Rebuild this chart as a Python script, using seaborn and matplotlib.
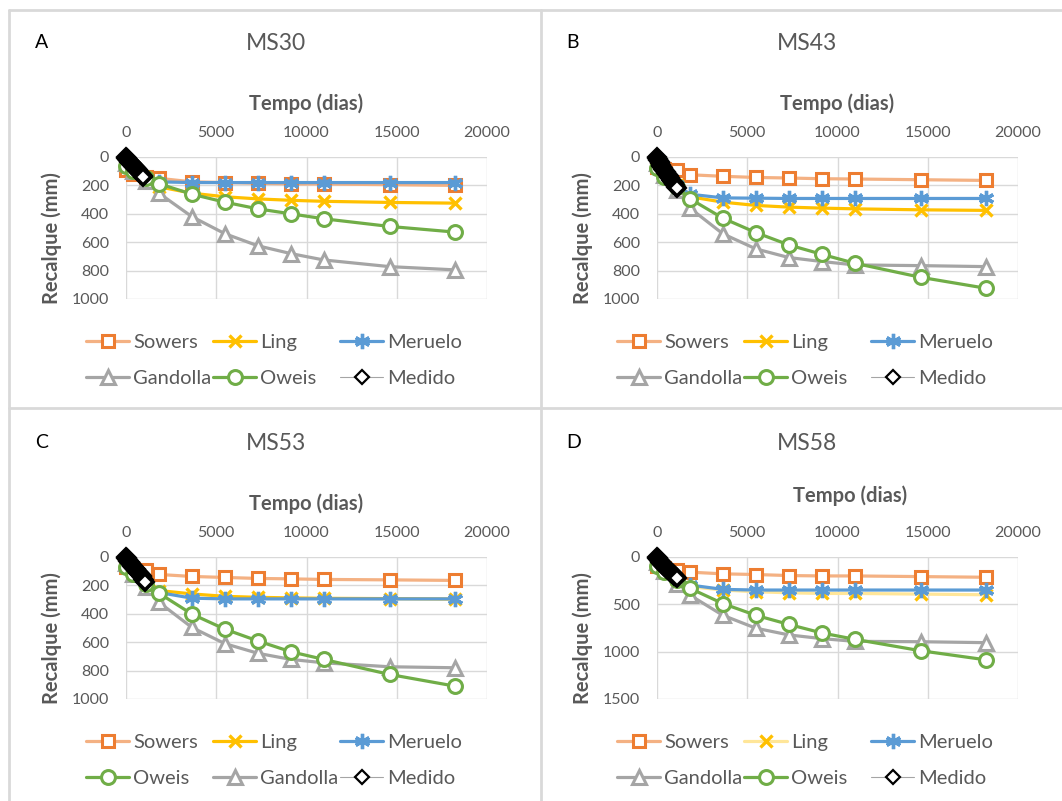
import matplotlib
matplotlib.use("Agg")
import matplotlib.pyplot as plt
from matplotlib.lines import Line2D
import seaborn as sns

# ---------------- data ----------------
t_model = [0, 365, 1095, 1825, 3650, 5475, 7300, 9125, 10950, 14600, 18250]

# MS30 (A)
A_sowers = [90, 120, 140, 150, 175, 180, 185, 190, 190, 195, 200]
A_ling = [20, 80, 150, 210, 255, 280, 295, 305, 312, 320, 325]
A_meruelo = [10, 90, 160, 175, 180, 180, 180, 180, 180, 180, 180]
A_gandolla = [40, 100, 170, 255, 420, 540, 625, 680, 725, 772, 795]
A_oweis = [60, 100, 150, 188, 262, 318, 365, 400, 435, 489, 529]
A_t_med = [0, 20, 45, 70, 100, 130, 160, 190, 220, 250, 285, 320, 355, 390, 425, 460,
           495, 530, 565, 600, 640, 680, 720, 760, 800, 840, 880, 915, 950]
A_medido = [0, 4, 9, 13, 18, 23, 28, 32, 36, 40, 45, 50, 55, 59, 64, 68,
            73, 78, 83, 88, 93, 99, 104, 110, 116, 122, 128, 134, 140]

# MS43 (B)
B_sowers = [70, 85, 95, 125, 136, 144, 148, 153, 155, 160, 165]
B_ling = [20, 100, 200, 280, 318, 341, 353, 360, 365, 372, 376]
B_meruelo = [10, 100, 200, 262, 288, 290, 292, 292, 292, 292, 292]
B_gandolla = [40, 130, 230, 360, 541, 647, 708, 736, 760, 765, 772]
B_oweis = [80, 140, 210, 294, 431, 532, 619, 685, 748, 847, 925]
B_t_med = [0, 20, 45, 75, 105, 140, 175, 210, 245, 280, 320, 360, 400, 440, 480, 520,
           560, 600, 645, 690, 735, 780, 825, 870, 915, 960, 1010, 1060, 1108]
B_medido = [0, 6, 13, 21, 29, 37, 45, 53, 60, 67, 75, 83, 91, 99, 106, 113,
            120, 127, 135, 143, 151, 159, 167, 175, 183, 191, 200, 209, 218]

# MS53 (C)
C_sowers = [70, 85, 95, 123, 137, 144, 151, 154, 158, 161, 165]
C_ling = [20, 100, 190, 236, 260, 277, 284, 288, 291, 293, 296]
C_meruelo = [10, 100, 190, 250, 290, 295, 295, 295, 295, 295, 295]
C_gandolla = [40, 120, 210, 319, 496, 610, 678, 721, 745, 773, 780]
C_oweis = [70, 120, 190, 255, 402, 508, 591, 667, 721, 827, 910]
C_t_med = [0, 20, 45, 70, 100, 135, 170, 205, 240, 275, 310, 345, 380, 415, 450, 490,
           530, 570, 610, 650, 690, 730, 775, 820, 865, 910, 955, 1000, 1050]
C_medido = [0, 4, 9, 14, 20, 26, 32, 38, 44, 49, 55, 60, 66, 71, 76, 82,
            88, 93, 99, 104, 110, 116, 122, 129, 136, 144, 153, 164, 177]

# MS58 (D)
D_sowers = [90, 120, 140, 160, 178, 185, 196, 200, 200, 207, 214]
D_ling = [20, 120, 240, 313, 349, 367, 378, 385, 385, 392, 399]
D_meruelo = [10, 120, 240, 296, 342, 349, 349, 349, 349, 349, 349]
D_gandolla = [50, 150, 280, 403, 616, 752, 823, 862, 891, 895, 905]
D_oweis = [90, 160, 240, 331, 492, 616, 712, 802, 869, 990, 1087]
D_t_med = [0, 20, 45, 75, 105, 140, 175, 210, 245, 280, 320, 360, 400, 440, 480, 520,
           560, 600, 645, 690, 735, 780, 825, 870, 915, 960, 1010, 1060, 1108]
D_medido = [0, 7, 15, 24, 32, 41, 49, 57, 65, 72, 80, 88, 96, 104, 111, 118,
            125, 132, 140, 148, 156, 164, 172, 180, 188, 196, 205, 214, 223]

x_ticks = [0, 5000, 10000, 15000, 20000]

# ---------------- style ----------------
sns.set_style("white")
plt.rcParams['font.family'] = ['Lato', 'DejaVu Sans']

W, H = 1062, 801
GRAY_T = '#595959'
GRID = '#d9d9d9'


def fx(x):
    return x / W


def fy(y):
    return 1 - y / H


def style_for(name, pale_ling=False, legend=False):
    s = {
        'Sowers': dict(color='#F4B183', marker='s', markeredgecolor='#ED7D31', markerfacecolor='white',
                       markersize=9, markeredgewidth=2.2, linewidth=2.3),
        'Ling': dict(color='#FFE699' if pale_ling else '#FFC000', marker='x', markeredgecolor='#FFC000',
                     markerfacecolor='#FFC000', markersize=9, markeredgewidth=2.4, linewidth=2.3),
        'Meruelo': dict(color='#5B9BD5', marker=(6, 2, 0), markeredgecolor='#5B9BD5', markerfacecolor='#5B9BD5',
                        markersize=11, markeredgewidth=2.4, linewidth=2.3),
        'Gandolla': dict(color='#A5A5A5', marker='^', markeredgecolor='#A5A5A5', markerfacecolor='white',
                         markersize=10, markeredgewidth=2.2, linewidth=2.3),
        'Oweis': dict(color='#70AD47', marker='o', markeredgecolor='#70AD47', markerfacecolor='white',
                      markersize=10, markeredgewidth=2.2, linewidth=2.3),
        'Medido': dict(color='#A5A5A5', marker='D', markeredgecolor='black', markerfacecolor='white',
                       markersize=7 if legend else 8, markeredgewidth=1.6 if legend else 2.6, linewidth=0.8),
    }
    return s[name]


panels = [
    dict(dx=0, dy=0, letter='A', title='MS30', ymax=1000, ystep=200,
         series={'Sowers': A_sowers, 'Ling': A_ling, 'Meruelo': A_meruelo,
                 'Gandolla': A_gandolla, 'Oweis': A_oweis},
         t_med=A_t_med, med=A_medido,
         order=['Sowers', 'Ling', 'Meruelo', 'Gandolla', 'Oweis', 'Medido'], pale=False, tshift=(0, 0)),
    dict(dx=531, dy=0, letter='B', title='MS43', ymax=1000, ystep=200,
         series={'Sowers': B_sowers, 'Ling': B_ling, 'Meruelo': B_meruelo,
                 'Gandolla': B_gandolla, 'Oweis': B_oweis},
         t_med=B_t_med, med=B_medido,
         order=['Sowers', 'Ling', 'Meruelo', 'Gandolla', 'Oweis', 'Medido'], pale=False, tshift=(0, 0)),
    dict(dx=0, dy=400, letter='C', title='MS53', ymax=1000, ystep=200,
         series={'Sowers': C_sowers, 'Ling': C_ling, 'Meruelo': C_meruelo,
                 'Gandolla': C_gandolla, 'Oweis': C_oweis},
         t_med=C_t_med, med=C_medido,
         order=['Sowers', 'Ling', 'Meruelo', 'Oweis', 'Gandolla', 'Medido'], pale=False, tshift=(0, 0)),
    dict(dx=531, dy=400, letter='D', title='MS58', ymax=1500, ystep=500,
         series={'Sowers': D_sowers, 'Ling': D_ling, 'Meruelo': D_meruelo,
                 'Gandolla': D_gandolla, 'Oweis': D_oweis},
         t_med=D_t_med, med=D_medido,
         order=['Sowers', 'Ling', 'Meruelo', 'Gandolla', 'Oweis', 'Medido'], pale=True, tshift=(13, -8)),
]

fig = plt.figure(figsize=(W / 100, H / 100), dpi=100)

# panel frame lines
for xs, ys in [([9, 9], [10, 801]), ([541, 541], [10, 801]),
               ([9, 1062], [10, 10]), ([9, 1062], [408, 408])]:
    fig.add_artist(Line2D([fx(v) for v in xs], [fy(v) for v in ys], color=GRID, lw=2))

draw_order = ['Sowers', 'Ling', 'Meruelo', 'Gandolla', 'Oweis']

for p in panels:
    dx, dy = p['dx'], p['dy']
    ax = fig.add_axes([fx(126 + dx), fy(299 + dy), 361 / W, 142 / H])
    for z, name in enumerate(draw_order):
        sns.lineplot(x=t_model, y=p['series'][name], ax=ax, sort=False, errorbar=None,
                     legend=False, clip_on=False, zorder=3 + z, **style_for(name, p['pale']))
    sns.lineplot(x=p['t_med'], y=p['med'], ax=ax, sort=False, errorbar=None, legend=False,
                 clip_on=False, zorder=10, **style_for('Medido'))

    ax.set_xlim(0, 20000)
    ax.set_ylim(p['ymax'], 0)
    ax.xaxis.tick_top()
    ax.set_xticks(x_ticks)
    ax.set_xticklabels([str(v) for v in x_ticks])
    yt = list(range(0, p['ymax'] + 1, p['ystep']))
    ax.set_yticks(yt)
    ax.set_yticklabels([str(v) for v in yt])
    ax.tick_params(axis='both', length=0, labelsize=11.5, labelcolor=GRAY_T)
    ax.tick_params(axis='x', pad=12)
    ax.tick_params(axis='y', pad=12)
    ax.grid(True, color=GRID, lw=1)
    ax.set_axisbelow(True)
    for sp in ax.spines.values():
        sp.set_visible(False)
    ax.set_xlabel('')
    ax.set_ylabel('')

    fig.text(fx(35 + dx), fy(43 + dy), p['letter'], ha='left', va='center', fontsize=14, color='black')
    fig.text(fx(276 + dx), fy(43 + dy), p['title'], ha='center', va='center', fontsize=16.5, color=GRAY_T)
    sx, sy = p['tshift']
    fig.text(fx(306 + dx + sx), fy(104 + dy + sy), 'Tempo (dias)', ha='center', va='center',
             fontsize=14.5, fontweight='bold', color=GRAY_T)
    fig.text(fx(52 + dx), fy(238 + dy), 'Recalque (mm)', ha='center', va='center', rotation=90,
             fontsize=14.5, fontweight='bold', color=GRAY_T)

    # legend: 3 columns x 2 rows, Excel-like equal column spacing
    handles = {}
    for name in ['Sowers', 'Ling', 'Meruelo', 'Gandolla', 'Oweis', 'Medido']:
        handles[name] = Line2D([], [], **style_for(name, p['pale'], legend=True))
    order = p['order']
    col_x = [86, 213, 340]
    legs = []
    for c in range(3):
        names = [order[c], order[c + 3]]
        leg = ax.legend([handles[n] for n in names], names, loc='center left',
                        bbox_to_anchor=(fx(col_x[c] + dx), fy(360.5 + dy)),
                        bbox_transform=fig.transFigure, frameon=False, borderpad=0,
                        borderaxespad=0, handlelength=2.15, handletextpad=0.2,
                        labelspacing=0.98, fontsize=14.5, labelcolor=GRAY_T, numpoints=1)
        legs.append(leg)
    for leg in legs[:-1]:
        ax.add_artist(leg)

fig.savefig('out.png', dpi=100)
